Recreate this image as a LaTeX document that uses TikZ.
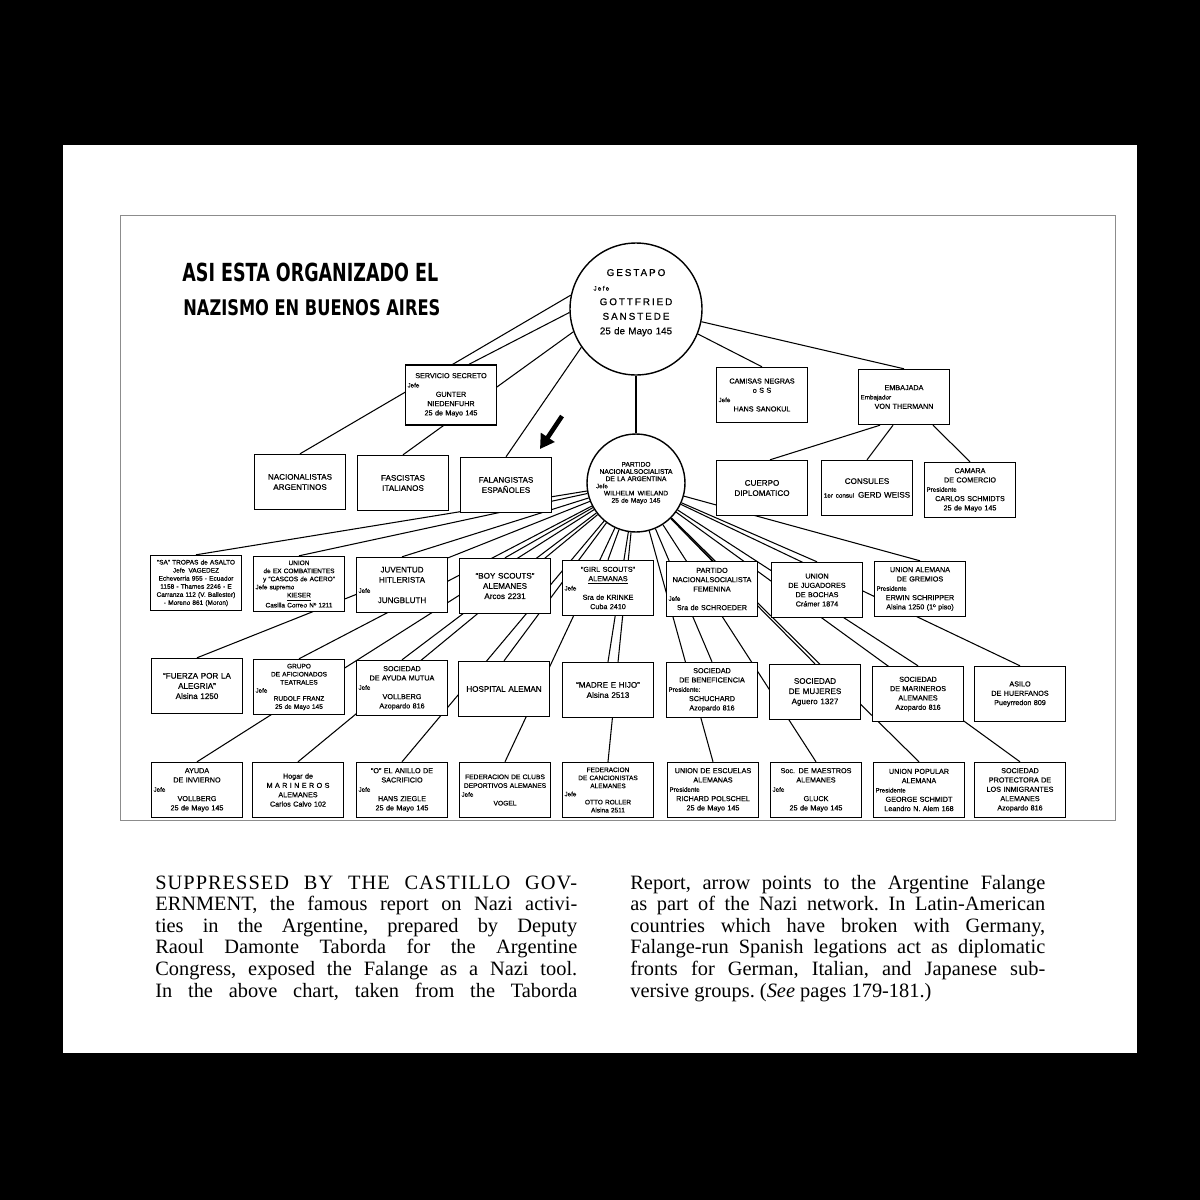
\documentclass[tikz,border=0pt]{standalone}
\usepackage{fontspec}
\setmainfont{Liberation Serif}
\newfontfamily\chartfont{Liberation Sans}[FakeBold=0.5]
\newfontfamily\spacedfont{Liberation Sans}[LetterSpace=20, FakeBold=0.6]
\newfontfamily\titlefont{DejaVu Sans}
\usetikzlibrary{arrows.meta, calc}

\newcommand\boxfont{\chartfont\fontsize{4.1}{5.3}\selectfont}
\newcommand\bigboxfont{\chartfont\fontsize{4.6}{5.8}\selectfont}
\newcommand\smallboxfont{\chartfont\fontsize{3.7}{4.6}\selectfont}
\newcommand\leftlbl[1]{\makebox[\linewidth][l]{\fontsize{3.6}{4}\selectfont #1}}
\newcommand\capline[1]{\makebox[8.44cm][s]{#1}}

\pgfdeclarelayer{paper}
\pgfdeclarelayer{ties}
\pgfsetlayers{paper,ties,main}

\tikzset{
  orgbox/.style={draw, fill=white, line width=0.8pt, minimum width=1.82cm,
    minimum height=1.1cm, inner sep=1pt, text width=1.74cm, align=center, font=\boxfont},
  orgcirc/.style={circle, draw, fill=white, line width=0.8pt, inner sep=0pt, align=center},
  tie/.style={line width=0.6pt},
  capstyle/.style={anchor=base west, inner sep=0pt, font=\frenchspacing\fontsize{11.6}{12}\selectfont},
}

\begin{document}
\begin{tikzpicture}[x=0.02cm, y=-0.02cm]
  \useasboundingbox (0,0) rectangle (1200,1200);
  \begin{pgfonlayer}{paper}
    % page on black
    \fill[black] (0,0) rectangle (1200,1200);
    \fill[white] (63,145) rectangle (1137,1053);
    \draw[black!45, line width=0.5pt] (120,215) rectangle (1115,820);
  \end{pgfonlayer}

  % Title
  \node[anchor=south west, inner sep=0pt] (title1) at (182,282)
    {\resizebox{5.12cm}{0.37cm}{\titlefont\bfseries ASI ESTA ORGANIZADO EL}};
  \node[anchor=south west, inner sep=0pt] (title2) at (183,316)
    {\resizebox{5.14cm}{0.32cm}{\titlefont\bfseries NAZISMO EN BUENOS AIRES}};

  % Circles
  \node[orgcirc, minimum size=2.64cm, text width=1.7cm,
    font=\spacedfont\fontsize{5.6}{8.3}\selectfont] (gestapo) at (636,309)
    {GESTAPO\\ \leftlbl{Jefe}\\ GOTTFRIED\\ SANSTEDE\\ {\chartfont 25 de Mayo 145}\\ \mbox{}};
  \node[orgcirc, minimum size=1.96cm, text width=1.6cm,
    font=\chartfont\fontsize{3.8}{4.1}\selectfont] (partido) at (636,483)
    {PARTIDO\\ NACIONALSOCIALISTA\\ DE LA ARGENTINA\\ \leftlbl{Jefe}\\ WILHELM\enspace WIELAND\\ 25 de Mayo 145};

  % Second row
  \node[orgbox, minimum height=1.2cm] (secreto) at (451,395)
    {SERVICIO SECRETO\\ \leftlbl{Jefe}\\ GUNTER\\ NIEDENFUHR\\ 25 de Mayo 145};
  \node[orgbox] (camisas) at (762,395)
    {CAMISAS NEGRAS\\ o S S\\ \leftlbl{Jefe}\\ HANS SANOKUL};
  \node[orgbox] (embajada) at (904,397)
    {EMBAJADA\\ \leftlbl{Embajador}\\ VON THERMANN};

  % Third row
  \node[orgbox, font=\bigboxfont] (nacional) at (300,482) {NACIONALISTAS\\ ARGENTINOS};
  \node[orgbox, font=\bigboxfont] (fascist) at (403,483) {FASCISTAS\\ ITALIANOS};
  \node[orgbox, font=\bigboxfont] (falange) at (506,485) {FALANGISTAS\\ ESPAÑOLES};
  \node[orgbox, font=\bigboxfont] (cuerpo) at (762,488) {CUERPO\\ DIPLOMATICO};
  \node[orgbox, font=\bigboxfont] (consules) at (867,488)
    {CONSULES\\[2pt] {\fontsize{3.6}{4}\selectfont 1er consul}\enspace GERD WEISS};
  \node[orgbox] (camara) at (970,490)
    {CAMARA\\ DE COMERCIO\\ \leftlbl{Presidente}\\ CARLOS SCHMIDTS\\ 25 de Mayo 145};

  % Fourth row
  \node[orgbox, font=\smallboxfont] (sa) at (196,583)
    {“SA” TROPAS de ASALTO\\ Jefe\enspace VAGEDEZ\\ Echeverria 955 - Ecuador\\ 1158 - Thames 2246 - E\\ Carranza 112 (V. Ballester)\\ - Moreno 861 (Moron)};
  \node[orgbox, font=\smallboxfont] (union) at (299,584)
    {UNION\\ de EX COMBATIENTES\\ y “CASCOS de ACERO”\\ \leftlbl{Jefe supremo}\\ \underline{KIESER}\\ Casilla Correo Nº 1211};
  \node[orgbox, font=\bigboxfont] (juv) at (402,585) {JUVENTUD\\ HITLERISTA\\ \leftlbl{Jefe}\\ JUNGBLUTH};
  \node[orgbox, font=\bigboxfont] (boys) at (505,586) {“BOY SCOUTS”\\ ALEMANES\\ Arcos 2231};
  \node[orgbox] (girls) at (608,588)
    {“GIRL SCOUTS”\\ \underline{ALEMANAS}\\ \leftlbl{Jefe}\\ Sra de KRINKE\\ Cuba 2410};
  \node[orgbox] (pfem) at (712,589)
    {PARTIDO\\ NACIONALSOCIALISTA\\ FEMENINA\\ \leftlbl{Jefe}\\ Sra de SCHROEDER};
  \node[orgbox] (bochas) at (817,590) {UNION\\ DE JUGADORES\\ DE BOCHAS\\ Crámer 1874};
  \node[orgbox] (gremios) at (920,589)
    {UNION ALEMANA\\ DE GREMIOS\\ \leftlbl{Presidente}\\ ERWIN SCHRIPPER\\ Alsina 1250 (1º piso)};

  % Fifth row
  \node[orgbox, font=\bigboxfont] (fuerza) at (197,686) {“FUERZA POR LA\\ ALEGRIA”\\ Alsina 1250};
  \node[orgbox, font=\smallboxfont] (teatro) at (299,687)
    {GRUPO\\ DE AFICIONADOS\\ TEATRALES\\ \leftlbl{Jefe}\\ RUDOLF FRANZ\\ 25 de Mayo 145};
  \node[orgbox] (mutua) at (402,688)
    {SOCIEDAD\\ DE AYUDA MUTUA\\ \leftlbl{Jefe}\\ VOLLBERG\\ Azopardo 816};
  \node[orgbox, font=\bigboxfont] (hospital) at (504,689) {HOSPITAL ALEMAN};
  \node[orgbox, font=\bigboxfont] (madre) at (608,690) {“MADRE E HIJO”\\ Alsina 2513};
  \node[orgbox] (benef) at (712,690)
    {SOCIEDAD\\ DE BENEFICENCIA\\ \leftlbl{Presidente:}\\ SCHUCHARD\\ Azopardo 816};
  \node[orgbox, font=\bigboxfont] (mujeres) at (815,692) {SOCIEDAD\\ DE MUJERES\\ Aguero 1327};
  \node[orgbox] (marin) at (918,694) {SOCIEDAD\\ DE MARINEROS\\ ALEMANES\\ Azopardo 816};
  \node[orgbox] (asilo) at (1020,694) {ASILO\\ DE HUERFANOS\\ Pueyrredon 809};

  % Sixth row
  \node[orgbox] (ayuda) at (197,790)
    {AYUDA\\ DE INVIERNO\\ \leftlbl{Jefe}\\ VOLLBERG\\ 25 de Mayo 145};
  \node[orgbox] (hogar) at (298,790)
    {Hogar de\\ M A R I N E R O S\\ ALEMANES\\ Carlos Calvo 102};
  \node[orgbox] (anillo) at (402,790)
    {“O” EL ANILLO DE\\ SACRIFICIO\\ \leftlbl{Jefe}\\ HANS ZIEGLE\\ 25 de Mayo 145};
  \node[orgbox, font=\chartfont\fontsize{3.8}{5}\selectfont] (fedclub) at (505,790)
    {FEDERACION DE CLUBS\\ DEPORTIVOS ALEMANES\\ \leftlbl{Jefe}\\ VOGEL};
  \node[orgbox, font=\smallboxfont] (fedcanc) at (608,790)
    {FEDERACION\\ DE CANCIONISTAS\\ ALEMANES\\ \leftlbl{Jefe}\\ OTTO ROLLER\\ Alsina 2511};
  \node[orgbox] (escuelas) at (713,790)
    {UNION DE ESCUELAS\\ ALEMANAS\\ \leftlbl{Presidente}\\ RICHARD POLSCHEL\\ 25 de Mayo 145};
  \node[orgbox] (maestros) at (816,790)
    {Soc. DE MAESTROS\\ ALEMANES\\ \leftlbl{Jefe}\\ GLUCK\\ 25 de Mayo 145};
  \node[orgbox] (popular) at (919,790)
    {UNION POPULAR\\ ALEMANA\\ \leftlbl{Presidente}\\ GEORGE SCHMIDT\\ Leandro N. Alem 168};
  \node[orgbox] (protect) at (1020,790)
    {SOCIEDAD\\ PROTECTORA DE\\ LOS INMIGRANTES\\ ALEMANES\\ Azopardo 816};

  % Connectors, under the boxes
  \begin{pgfonlayer}{ties}
    \draw[tie] (gestapo) -- (partido);
    \draw[tie] (gestapo.168) -- (nacional.north);
    \draw[tie] (gestapo.183) -- ($(secreto.north)+(18,0)$);
    \draw[tie] (gestapo.200) -- (fascist.north);
    \draw[tie] (gestapo.215) -- (falange.north);
    \draw[tie] (gestapo.-22) -- (camisas.north);
    \draw[tie] (gestapo.-11) -- (embajada.north);
    \draw[tie] ($(embajada.south)+(-24,0)$) -- ($(cuerpo.north)+(8,0)$);
    \draw[tie] ($(embajada.south)+(-11,0)$) -- (consules.north);
    \draw[tie] ($(embajada.south)+(29,0)$) -- (camara.north);
    \foreach \boxname in {sa, union, juv, boys, girls, pfem, bochas, gremios,
        fuerza, teatro, mutua, hospital, madre, benef, mujeres, marin, asilo,
        ayuda, hogar, anillo, fedclub, fedcanc, escuelas, maestros, popular, protect}
      \draw[tie] (partido) -- (\boxname.north);
  \end{pgfonlayer}

  % Arrow to the Falange
  \coordinate (arrtail) at (562,416);
  \coordinate (arrtip) at (540,449);
  \draw[line width=2.6pt, -{Triangle[length=8pt, width=9pt]}] (arrtail) -- (arrtip);

  % Caption
  \foreach \ln [count=\i from 0] in {{\addfontfeature{LetterSpace=5}SUPPRESSED BY THE CASTILLO GOV-},
      {ERNMENT, the famous report on Nazi activi-},
      {ties in the Argentine, prepared by Deputy},
      {Raoul Damonte Taborda for the Argentine},
      {Congress, exposed the Falange as a Nazi tool.},
      {In the above chart, taken from the Taborda}}
    \node[capstyle] (capL\i) at (155, 889+21.6*\i) {\capline{\ln}};
  \foreach \ln [count=\i from 0] in {{Report, arrow points to the Argentine Falange},
      {as part of the Nazi network. In Latin-American},
      {countries which have broken with Germany,},
      {Falange-run Spanish legations act as diplomatic},
      {fronts for German, Italian, and Japanese sub-}}
    \node[capstyle] (capR\i) at (630, 889+21.6*\i) {\makebox[8.3cm][s]{\ln}};
  \node[capstyle] (capR5) at (630, 997) {versive groups. (\emph{See} pages 179-181.)};
\end{tikzpicture}
\end{document}
